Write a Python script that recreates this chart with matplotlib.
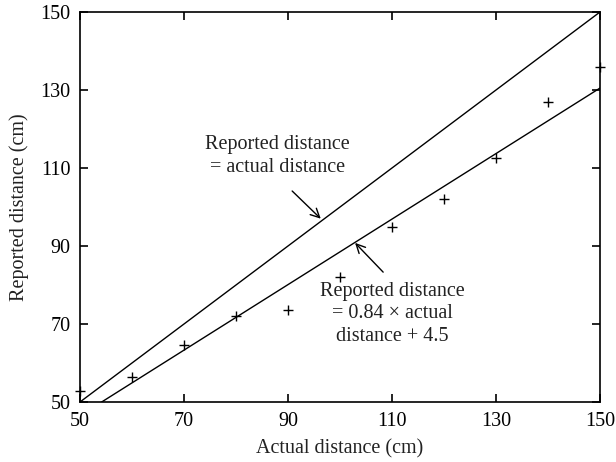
import matplotlib
matplotlib.use("Agg")
import matplotlib.pyplot as plt
import numpy as np

# data
actual = [50, 60, 70, 80, 90, 100, 110, 120, 130, 140, 150]
reported = [52.8, 56.5, 64.5, 72.0, 73.5, 82.0, 95.0, 102.0, 112.5, 127.0, 136.0]
fit_slope = 0.84
fit_icpt = 4.5
ticks = [50, 70, 90, 110, 130, 150]

plt.rcParams["font.family"] = ["Liberation Serif", "DejaVu Serif"]

fig = plt.figure(figsize=(6.16, 4.62), dpi=100)
ax = fig.add_axes([80 / 616, 60 / 462, 520 / 616, 390 / 462])

xs = np.array([50, 150])
ax.plot(xs, xs, color="black", lw=1)
x0 = (50 - fit_icpt) / fit_slope
xf = np.array([x0, 150])
ax.plot(xf, fit_slope * xf + fit_icpt, color="black", lw=1)
ax.plot(actual, reported, "k+", ms=7, mew=1, clip_on=False)

ax.set_xlim(50, 150)
ax.set_ylim(50, 150)
ax.set_xticks(ticks)
ax.set_yticks(ticks)
ax.tick_params(direction="in", top=True, right=True, length=6, width=1.2,
               labelsize=14.5, colors="black", pad=7)
for s in ax.spines.values():
    s.set_linewidth(1.2)

ax.set_xlabel("Actual distance (cm)", fontsize=14.5, color="#222222", labelpad=6)
ax.set_ylabel("Reported distance (cm)", fontsize=14.5, color="#222222", labelpad=8)

arrow = dict(arrowstyle="->", color="black", lw=1, shrinkA=0, shrinkB=0, mutation_scale=16)
ax.text(87.9, 107.6, "Reported distance\n= actual distance",
        ha="center", va="bottom", fontsize=14.5, color="#222222", linespacing=1.3)
ax.annotate("", xy=(96.3, 97.0), xytext=(90.8, 104.1), arrowprops=arrow)
ax.annotate("", xy=(102.9, 90.8), xytext=(108.3, 83.3), arrowprops=arrow)
ax.text(110.0, 80.8, "Reported distance\n= 0.84 × actual\ndistance + 4.5",
        ha="center", va="top", fontsize=14.5, color="#222222", linespacing=1.25)

fig.savefig("out.png", dpi=100)
